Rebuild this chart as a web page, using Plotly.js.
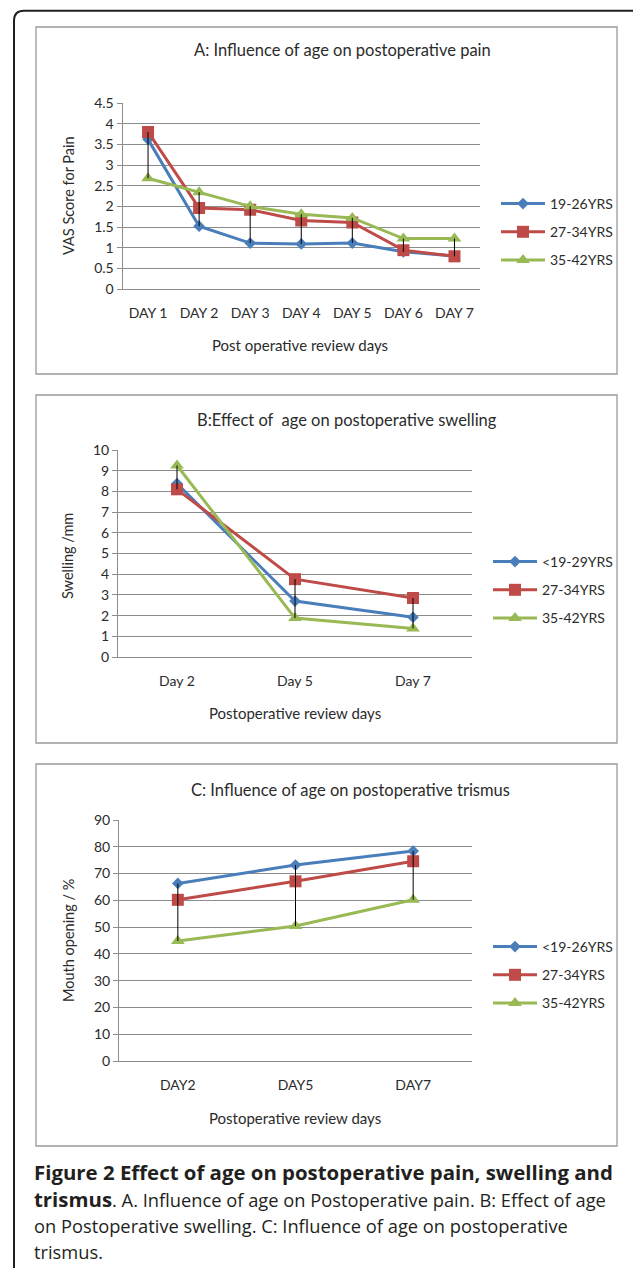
<!DOCTYPE html>
<html>
<head>
<meta charset="utf-8">
<script src="https://cdn.plot.ly/plotly-3.0.1.min.js"></script>
<style>
html,body{margin:0;padding:0;background:#fff;}
#chart{width:633px;height:1268px;}
</style>
</head>
<body>
<div id="chart"></div>
<script>
// ---------- DATA ----------
const daysA = ['DAY 1','DAY 2','DAY 3','DAY 4','DAY 5','DAY 6','DAY 7'];
const namesA = ['19-26YRS','27-34YRS','35-42YRS'];
const painA1 = [3.62, 1.52, 1.11, 1.09, 1.11, 0.90, 0.80];
const painA2 = [3.80, 1.96, 1.92, 1.66, 1.61, 0.94, 0.79];
const painA3 = [2.68, 2.34, 2.00, 1.81, 1.72, 1.22, 1.22];

const daysB = ['Day 2','Day 5','Day 7'];
const namesB = ['<19-29YRS','27-34YRS','35-42YRS'];
const swellB1 = [8.38, 2.70, 1.92];
const swellB2 = [8.10, 3.76, 2.85];
const swellB3 = [9.25, 1.88, 1.38];

const daysC = ['DAY2','DAY5','DAY7'];
const namesC = ['<19-26YRS','27-34YRS','35-42YRS'];
const trisC1 = [66.3, 73.2, 78.4];
const trisC2 = [60.2, 67.1, 74.6];
const trisC3 = [44.8, 50.4, 60.2];

const ticksA = [0,0.5,1,1.5,2,2.5,3,3.5,4,4.5];
const ticksB = [0,1,2,3,4,5,6,7,8,9,10];
const ticksC = [0,10,20,30,40,50,60,70,80,90];

// ---------- STYLE ----------
const W = 633, H = 1268;
const fx = x => x / W;
const fy = y => 1 - y / H;
const colors = ['#4A7EBB', '#BE4B48', '#98B954'];
const symbols = ['diamond', 'square', 'triangle-up'];
const msizes = [9, 12, 12];
const FONT = 'Lato, "Liberation Sans", sans-serif';
const TXT = '#2b2b2b';
const GRID = '#8c8c8c';

function seriesTraces(cats, ys, names, xa, ya, leg) {
  return ys.map((y, i) => ({
    type: 'scatter', mode: 'lines+markers',
    x: cats, y: y, name: names[i],
    xaxis: xa, yaxis: ya, legend: leg, legendgroup: leg + i,
    line: {color: colors[i], width: 3},
    marker: {symbol: symbols[i], size: msizes[i], color: colors[i]},
    hoverinfo: 'x+y+name'
  }));
}
function hiLo(cats, ys, xa, ya) {
  const x = [], y = [];
  cats.forEach((c, j) => {
    const vals = ys.map(s => s[j]);
    x.push(c, c, null);
    y.push(Math.max(...vals), Math.min(...vals), null);
  });
  return {type: 'scatter', mode: 'lines', x, y, xaxis: xa, yaxis: ya,
    line: {color: '#000', width: 1}, showlegend: false, hoverinfo: 'skip'};
}

const data = [
  ...seriesTraces(daysA, [painA1, painA2, painA3], namesA, 'x', 'y', 'legend'),
  hiLo(daysA, [painA1, painA2, painA3], 'x', 'y'),
  ...seriesTraces(daysB, [swellB1, swellB2, swellB3], namesB, 'x2', 'y2', 'legend2'),
  hiLo(daysB, [swellB1, swellB2, swellB3], 'x2', 'y2'),
  ...seriesTraces(daysC, [trisC1, trisC2, trisC3], namesC, 'x3', 'y3', 'legend3'),
  hiLo(daysC, [trisC1, trisC2, trisC3], 'x3', 'y3')
];

function xAxis(dom, anchor, n) {
  return {domain: dom, anchor: anchor, type: 'category', range: [-0.5, n - 0.5],
    showline: true, linecolor: GRID, linewidth: 1, showgrid: false, zeroline: false,
    ticks: '', ticklabelstandoff: 11, fixedrange: true,
    tickfont: {family: FONT, size: 14, color: TXT}};
}
function yAxis(dom, anchor, range, ticks) {
  return {domain: dom, anchor: anchor, range: range, tickvals: ticks,
    showline: true, linecolor: GRID, linewidth: 1, showgrid: true, gridcolor: GRID, gridwidth: 1,
    zeroline: false, ticks: 'outside', ticklen: 5, tickcolor: GRID, fixedrange: true,
    tickfont: {family: FONT, size: 14, color: TXT}};
}
function legend(x, y) {
  return {x: fx(x), y: fy(y), xanchor: 'left', yanchor: 'top', bgcolor: 'rgba(0,0,0,0)',
    borderwidth: 0, itemwidth: 44, tracegroupgap: 7, traceorder: 'grouped',
    font: {family: FONT, size: 14, color: TXT}};
}
function ann(text, x, y, size, extra) {
  return Object.assign({text, x: fx(x), y: fy(y), xref: 'paper', yref: 'paper',
    showarrow: false, xanchor: 'center', yanchor: 'middle',
    font: {family: FONT, size: size, color: TXT}}, extra || {});
}
function box(x0, y0, x1, y1) {
  return {type: 'rect', xref: 'paper', yref: 'paper', x0: fx(x0), x1: fx(x1), y0: fy(y1), y1: fy(y0),
    line: {color: '#9a9a9a', width: 1.3}, fillcolor: 'rgba(0,0,0,0)', layer: 'below'};
}
const CAP = '"Open Sans", "Noto Sans", sans-serif';
function cap(text, y) {
  return {text, x: fx(32), y: fy(y), xref: 'paper', yref: 'paper', showarrow: false,
    xanchor: 'left', yanchor: 'middle', align: 'left',
    font: {family: CAP, size: 18.3, color: '#231f20'}};
}
const B = t => `<b><span style="font-size:20.4px">${t}</span></b>`;

const framePath = `M ${fx(640)} ${fy(10.7)} L ${fx(24)} ${fy(10.7)} Q ${fx(14)} ${fy(10.7)} ${fx(14)} ${fy(20.7)} L ${fx(14)} ${fy(1272)}`;

const layout = {
  width: W, height: H, margin: {l: 0, r: 0, t: 0, b: 0},
  paper_bgcolor: '#fff', plot_bgcolor: 'rgba(0,0,0,0)',
  font: {family: FONT, color: TXT},
  xaxis: xAxis([fx(122.5), fx(480)], 'y', daysA.length),
  yaxis: yAxis([fy(289), fy(103)], 'x', [0, 4.5], ticksA),
  xaxis2: xAxis([fx(118), fx(472)], 'y2', daysB.length),
  yaxis2: yAxis([fy(657), fy(450)], 'x2', [0, 10], ticksB),
  xaxis3: xAxis([fx(119), fx(472)], 'y3', daysC.length),
  yaxis3: yAxis([fy(1061), fy(820)], 'x3', [0, 90], ticksC),
  legend: legend(496, 188),
  legend2: legend(488, 546),
  legend3: legend(488, 931),
  showlegend: true,
  shapes: [
    {type: 'path', xref: 'paper', yref: 'paper', path: framePath, line: {color: '#231f20', width: 2}},
    box(36, 27, 617, 374),
    box(36, 395, 617, 743),
    box(36, 764, 617, 1146)
  ],
  annotations: [
    ann('A: Influence of age on postoperative pain', 342, 50, 16.5),
    ann('Post operative review days', 300, 345, 15),
    ann('VAS Score for Pain', 68, 196, 14.5, {textangle: -90}),
    ann('B:Effect of  age on postoperative swelling', 347, 420, 16.5),
    ann('Postoperative review days', 295, 713, 15),
    ann('Swelling /mm', 68, 556, 14.5, {textangle: -90}),
    ann('C: Influence of age on postoperative trismus', 351, 790, 16.5),
    ann('Postoperative review days', 295, 1118, 15),
    ann('Mouth opening / %', 68, 941, 14.5, {textangle: -90}),
    cap(B('Figure 2 Effect of age on postoperative pain, swelling and'), 1172),
    cap(B('trismus') + '. A. Influence of age on Postoperative pain. B: Effect of age', 1199),
    cap('on Postoperative swelling. C: Influence of age on postoperative', 1225),
    cap('trismus.', 1251)
  ]
};

Plotly.newPlot('chart', data, layout, {staticPlot: true, displayModeBar: false});
</script>
</body>
</html>
